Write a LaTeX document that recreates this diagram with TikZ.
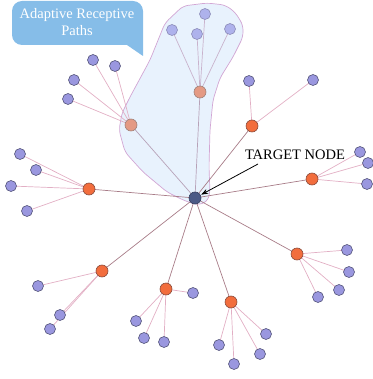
\documentclass[tikz,border=0pt]{standalone}
\usepackage{fontspec}
\setmainfont{Liberation Serif}
\usetikzlibrary{arrows.meta}
\pgfdeclarelayer{hulllayer}
\pgfdeclarelayer{bg}
\pgfsetlayers{hulllayer,bg,main}
\definecolor{leaffill}{HTML}{9A97DF}
\definecolor{leafline}{HTML}{55557A}
\definecolor{fleaffill}{HTML}{AEB2EC}
\definecolor{fleafline}{HTML}{8C8CB8}
\definecolor{hubfill}{HTML}{F26D3D}
\definecolor{hubline}{HTML}{8A4A3A}
\definecolor{fhubfill}{HTML}{E49A84}
\definecolor{fhubline}{HTML}{A08078}
\definecolor{tgtfill}{HTML}{4C5A86}
\definecolor{hulledge}{HTML}{D2A6D4}
\definecolor{hullfill}{HTML}{E8F2FD}
\definecolor{spoke}{HTML}{A87C88}
\definecolor{twig}{HTML}{E2AFC4}
\definecolor{ftwig}{HTML}{C9B2CC}
\definecolor{fspoke}{HTML}{B7A2B8}
\definecolor{calloutblue}{HTML}{86BDE8}
\tikzset{
  leaf/.style={circle,draw=leafline,fill=leaffill,line width=0.6pt,minimum size=11pt,inner sep=0pt},
  fleaf/.style={circle,draw=fleafline,fill=fleaffill,line width=0.6pt,minimum size=11pt,inner sep=0pt},
  hub/.style={circle,draw=hubline,fill=hubfill,line width=0.6pt,minimum size=12pt,inner sep=0pt},
  fhub/.style={circle,draw=fhubline,fill=fhubfill,line width=0.6pt,minimum size=12pt,inner sep=0pt},
  tgt/.style={circle,draw=tgtfill!70!black,fill=tgtfill,line width=0.6pt,minimum size=12pt,inner sep=0pt},
  spokeline/.style={draw=spoke,line width=0.7pt},
  fspokeline/.style={draw=fspoke,line width=0.7pt},
  twigline/.style={draw=twig,line width=0.7pt},
  ftwigline/.style={draw=ftwig,line width=0.7pt},
  lbl/.style={font=\fontsize{14.5}{17}\selectfont,inner sep=0pt}
}
\begin{document}
\begin{tikzpicture}[x=1pt,y=-1pt]
\useasboundingbox (0,0) rectangle (372,379);
% hull
\begin{pgfonlayer}{hulllayer}
\path[fill=hullfill,draw=hulledge,line width=0.7pt,rounded corners=5pt]
 (207,3) -- (225,5) -- (235,12) -- (243,25) -- (243,37) -- (233,57) -- (220,78)
 -- (213,100) -- (210,130) -- (209,167) -- (210,193) -- (207,202) -- (197,205)
 -- (183,200) -- (167,192) -- (143,172) -- (125,152) -- (119,130) -- (122,113)
 -- (130,97) -- (150,60) -- (165,23) -- (183,6) -- cycle;
\end{pgfonlayer}
% target
\node[tgt] (t) at (195,198) {};
% hubs
\node[fhub] (h1) at (200,92) {};
\node[fhub] (h2) at (131,125) {};
\node[hub] (h3) at (252,126) {};
\node[hub] (h4) at (312,179) {};
\node[hub] (h5) at (297,254) {};
\node[hub] (h6) at (231,302) {};
\node[hub] (h7) at (166,289) {};
\node[hub] (h8) at (102,271) {};
\node[hub] (h9) at (89,189) {};
% leaves
\node[fleaf] (a1) at (205,14) {};
\node[fleaf] (a2) at (172,30) {};
\node[fleaf] (a3) at (197,34) {};
\node[fleaf] (a4) at (230,29) {};
\node[leaf] (b1) at (93,60) {};
\node[leaf] (b2) at (115,66) {};
\node[leaf] (b3) at (74,80) {};
\node[leaf] (b4) at (68,99) {};
\node[leaf] (c1) at (249,81) {};
\node[leaf] (c2) at (313,80) {};
\node[leaf] (d1) at (360,152) {};
\node[leaf] (d2) at (368,163) {};
\node[leaf] (d3) at (367,184) {};
\node[leaf] (e1) at (347,250) {};
\node[leaf] (e2) at (349,272) {};
\node[leaf] (e3) at (339,290) {};
\node[leaf] (e4) at (318,297) {};
\node[leaf] (f1) at (266,334) {};
\node[leaf] (f2) at (219,345) {};
\node[leaf] (f3) at (234,364) {};
\node[leaf] (f4) at (260,354) {};
\node[leaf] (g1) at (193,293) {};
\node[leaf] (g2) at (136,321) {};
\node[leaf] (g3) at (144,338) {};
\node[leaf] (g4) at (164,342) {};
\node[leaf] (i1) at (38,286) {};
\node[leaf] (i2) at (60,315) {};
\node[leaf] (i3) at (50,329) {};
\node[leaf] (j1) at (20,154) {};
\node[leaf] (j2) at (36,170) {};
\node[leaf] (j3) at (11,186) {};
\node[leaf] (j4) at (27,211) {};
\begin{pgfonlayer}{bg}
\foreach \h in {h3,h4,h5,h6,h7,h8,h9} \path[spokeline] (t.center) -- (\h.center);
\foreach \h in {h1,h2} \path[fspokeline] (t.center) -- (\h.center);
\foreach \l in {a1,a2,a3,a4} \path[ftwigline] (h1.center) -- (\l.center);
\foreach \l in {b1,b2,b3,b4} \path[twigline] (h2.center) -- (\l.center);
\foreach \l in {c1,c2} \path[twigline] (h3.center) -- (\l.center);
\foreach \l in {d1,d2,d3} \path[twigline] (h4.center) -- (\l.center);
\foreach \l in {e1,e2,e3,e4} \path[twigline] (h5.center) -- (\l.center);
\foreach \l in {f1,f2,f3,f4} \path[twigline] (h6.center) -- (\l.center);
\foreach \l in {g1,g2,g3,g4} \path[twigline] (h7.center) -- (\l.center);
\foreach \l in {i1,i2,i3} \path[twigline] (h8.center) -- (\l.center);
\foreach \l in {j1,j2,j3,j4} \path[twigline] (h9.center) -- (\l.center);
\end{pgfonlayer}
% callout
\path[fill=calloutblue] (143,56) -- (127,45) [rounded corners=10pt] -- (12,45) -- (12,1) -- (143,1) [sharp corners] -- cycle;
\node[lbl,text=white,align=center] (callout) at (77,22) {Adaptive Receptive\\Paths};
% target label
\node[lbl] (tlabel) at (295,155) {TARGET NODE};
\coordinate (astart) at (258,164);
\draw[-{Stealth[length=7pt,width=5pt]},line width=0.8pt,shorten >=7pt] (astart) -- (t.center);
\end{tikzpicture}
\end{document}
